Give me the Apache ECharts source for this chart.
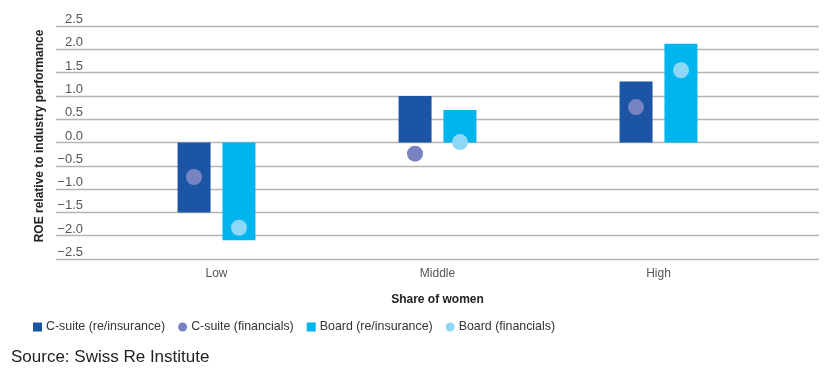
<!DOCTYPE html>
<html>
<head>
<meta charset="utf-8">
<script src="https://cdn.jsdelivr.net/npm/echarts@6/dist/echarts.min.js"></script>
<style>html,body{margin:0;padding:0;background:#fff;}#c{width:830px;height:371px;}</style>
</head>
<body>
<div id="c"></div>
<script>
const categories = ['Low', 'Middle', 'High'];
const csuiteReins = [-1.5, 1.0, 1.31];
const boardReins = [-2.1, 0.7, 2.12];
const csuiteFin = [-0.74, -0.24, 0.76];
const boardFin = [-1.83, 0.01, 1.55];
const yTicks = { min: -2.5, max: 2.5, interval: 0.5 };

const FONT = '"Liberation Sans", Arial, sans-serif';
const chart = echarts.init(document.getElementById('c'), null, { renderer: 'canvas' });
chart.setOption({
  animation: false,
  textStyle: { fontFamily: FONT },
  grid: [
    { left: 56, right: 11, top: 26, bottom: 112 },
    { left: 106, right: 61, top: 26, bottom: 112 }
  ],
  title: {
    text: 'Source: Swiss Re Institute',
    left: 6, top: 344,
    textStyle: { fontFamily: FONT, fontSize: 17, fontWeight: 'normal', color: '#222' }
  },
  graphic: [{
    type: 'text',
    x: 40, y: 136,
    rotation: Math.PI / 2,
    style: {
      text: 'ROE relative to industry performance',
      fontFamily: FONT, fontSize: 12, fontWeight: 'bold', fill: '#222',
      textAlign: 'center', textVerticalAlign: 'middle'
    }
  }],
  legend: {
    left: 28, top: 316,
    itemWidth: 9, itemHeight: 9, itemGap: 13,
    textStyle: { fontFamily: FONT, fontSize: 12.4, color: '#333', padding: [0, 0, 0, -1] },
    data: [
      { name: 'C-suite (re/insurance)', icon: 'rect' },
      { name: 'C-suite (financials)', icon: 'circle' },
      { name: 'Board (re/insurance)', icon: 'rect' },
      { name: 'Board (financials)', icon: 'circle' }
    ]
  },
  xAxis: [
    { gridIndex: 0, type: 'category', data: categories, show: false },
    {
      gridIndex: 1, type: 'category', data: categories,
      axisLine: { show: false }, axisTick: { show: false },
      axisLabel: { color: '#555', fontSize: 12, margin: 9, fontFamily: FONT },
      name: 'Share of women', nameLocation: 'middle', nameGap: 35,
      nameTextStyle: { fontFamily: FONT, fontSize: 12, fontWeight: 'bold', color: '#222' }
    }
  ],
  yAxis: [
    {
      gridIndex: 0, type: 'value', min: yTicks.min, max: yTicks.max, interval: yTicks.interval,
      axisLine: { show: false }, axisTick: { show: false },
      splitLine: { show: true, lineStyle: { color: '#b4b4b4', width: 1.3 } },
      axisLabel: {
        color: '#555', fontSize: 13, fontFamily: FONT, margin: -27, align: 'right',
        verticalAlign: 'bottom', padding: [0, 0, 0, 0],
        formatter: v => (v < 0 ? '\u2212' + Math.abs(v).toFixed(1) : v.toFixed(1))
      }
    },
    { gridIndex: 1, type: 'value', min: yTicks.min, max: yTicks.max, interval: yTicks.interval, show: false, splitLine: { show: false } }
  ],
  series: [
    {
      name: 'C-suite (re/insurance)', type: 'bar', xAxisIndex: 1, yAxisIndex: 1,
      data: csuiteReins, barWidth: 33, barGap: '36%',
      itemStyle: { color: '#1b55a4' }
    },
    {
      name: 'Board (re/insurance)', type: 'bar', xAxisIndex: 1, yAxisIndex: 1,
      data: boardReins, barWidth: 33, barGap: '36%',
      itemStyle: { color: '#00b5ee' }
    },
    {
      name: 'C-suite (financials)', type: 'scatter', xAxisIndex: 1, yAxisIndex: 1,
      data: csuiteFin, symbol: 'circle', symbolSize: 16, symbolOffset: [-22.5, 0], z: 5,
      itemStyle: { color: '#7884c2', opacity: 1 }
    },
    {
      name: 'Board (financials)', type: 'scatter', xAxisIndex: 1, yAxisIndex: 1,
      data: boardFin, symbol: 'circle', symbolSize: 16, symbolOffset: [22.5, 0], z: 5,
      itemStyle: { color: '#8dd7f7', opacity: 1 }
    }
  ]
});
</script>
</body>
</html>
